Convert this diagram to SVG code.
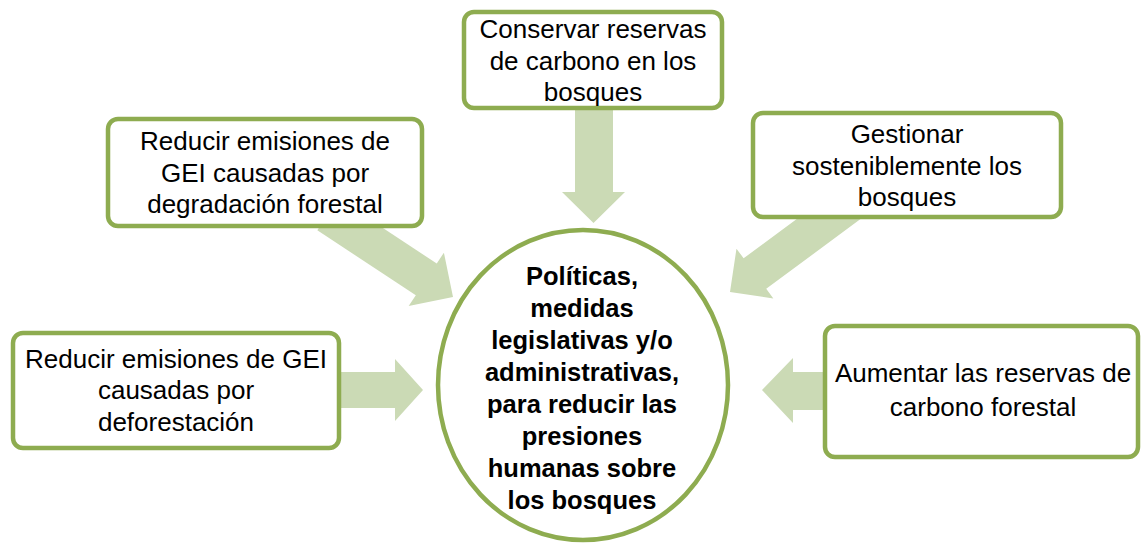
<svg xmlns="http://www.w3.org/2000/svg" width="1141" height="545" viewBox="0 0 1141 545">
<style>
.box{fill:#ffffff;stroke:#8eac50;stroke-width:4.5}
.arr{fill:#cbdab5;stroke:none}
.t{font-family:"Liberation Sans",Arial,sans-serif;font-size:26px;fill:#000;text-anchor:middle}
.c{font-family:"Liberation Sans",Arial,sans-serif;font-size:25.5px;font-weight:bold;fill:#000;text-anchor:middle}
</style>
<rect width="1141" height="545" fill="#ffffff"/>
<g id="connectors">
<polygon class="arr" points="575,100 613,100 613,192 625,192 593.5,223 562,192 575,192"/>
<polygon class="arr" transform="translate(453,297) rotate(33.4)" points="0,0 -32,32 -32,19 -150,19 -150,-19 -32,-19 -32,-32"/>
<polygon class="arr" transform="translate(730,292) rotate(143.5)" points="0,0 -31,31 -31,19 -150,19 -150,-19 -31,-19 -31,-31"/>
<polygon class="arr" points="335,372 395,372 395,359 423,390 395,421 395,408 335,408"/>
<polygon class="arr" points="830,372 793,372 793,358 762,390 793,423 793,410 830,410"/>
</g>
<g id="node-center">
<ellipse class="box" cx="583" cy="385" rx="145" ry="155"/>
<text class="c" x="582" y="285">Políticas,</text>
<text class="c" x="582" y="317">medidas</text>
<text class="c" x="582" y="349">legislativas y/o</text>
<text class="c" x="582" y="381">administrativas,</text>
<text class="c" x="582" y="413">para reducir las</text>
<text class="c" x="582" y="445">presiones</text>
<text class="c" x="582" y="477">humanas sobre</text>
<text class="c" x="582" y="509">los bosques</text>
</g>
<g id="node-top">
<rect class="box" x="464" y="12" width="258" height="96" rx="10"/>
<text class="t" x="593" y="38">Conservar reservas</text>
<text class="t" x="593" y="70">de carbono en los</text>
<text class="t" x="593" y="101">bosques</text>
</g>
<g id="node-topleft">
<rect class="box" x="108" y="119" width="314" height="107" rx="10"/>
<text class="t" x="265" y="150">Reducir emisiones de</text>
<text class="t" x="265" y="182">GEI causadas por</text>
<text class="t" x="265" y="213">degradación forestal</text>
</g>
<g id="node-topright">
<rect class="box" x="753" y="113" width="308" height="104" rx="10"/>
<text class="t" x="907" y="143">Gestionar</text>
<text class="t" x="907" y="175">sosteniblemente los</text>
<text class="t" x="907" y="206">bosques</text>
</g>
<g id="node-left">
<rect class="box" x="13" y="333" width="326" height="115" rx="10"/>
<text class="t" x="176" y="368">Reducir emisiones de GEI</text>
<text class="t" x="176" y="399">causadas por</text>
<text class="t" x="176" y="431">deforestación</text>
</g>
<g id="node-right">
<rect class="box" x="825" y="326" width="313" height="131" rx="10"/>
<text class="t" x="983" y="382">Aumentar las reservas de</text>
<text class="t" x="983" y="416">carbono forestal</text>
</g>
</svg>
